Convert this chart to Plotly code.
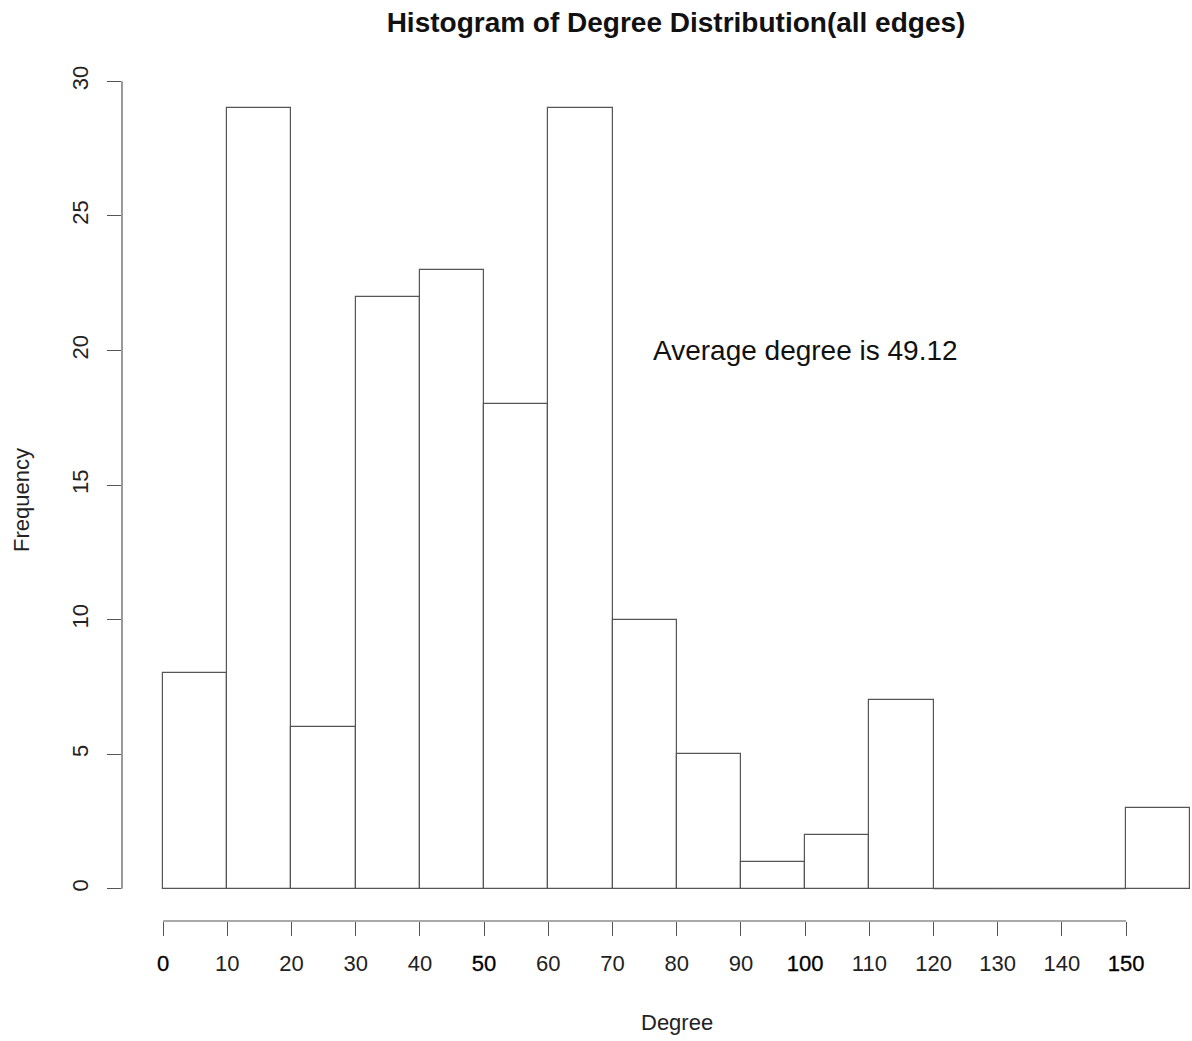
import plotly.graph_objects as go

# Data
bin_edges = [0, 10, 20, 30, 40, 50, 60, 70, 80, 90, 100, 110, 120, 130, 140, 150, 160]
counts = [8, 29, 6, 22, 23, 18, 29, 10, 5, 1, 2, 7, 0, 0, 0, 3]
x_tick_vals = [0, 10, 20, 30, 40, 50, 60, 70, 80, 90, 100, 110, 120, 130, 140, 150]
x_tick_bold = [0, 50, 100, 150]
y_tick_vals = [0, 5, 10, 15, 20, 25, 30]
title_text = "Histogram of Degree Distribution(all edges)"
note_text = "Average degree is 49.12"
note_pos = (100, 20)

FONT = "Liberation Sans, Arial, Helvetica, sans-serif"
LINE = "#555555"

centers = [(a + b) / 2 for a, b in zip(bin_edges[:-1], bin_edges[1:])]
widths = [b - a for a, b in zip(bin_edges[:-1], bin_edges[1:])]

fig = go.Figure()
fig.add_trace(go.Bar(
    x=centers, y=counts, width=widths,
    marker=dict(color="white", line=dict(color=LINE, width=1.2)),
    hoverinfo="x+y", showlegend=False,
))

# zero-height bins drawn as flat outlines on the baseline
zx, zy = [], []
for a, b, c in zip(bin_edges[:-1], bin_edges[1:], counts):
    if c == 0:
        zx += [a, b, None]
        zy += [0, 0, None]
fig.add_trace(go.Scatter(x=zx, y=zy, mode="lines",
                         line=dict(color=LINE, width=1.2),
                         hoverinfo="skip", showlegend=False))

ticktext = [
    f'<span style="stroke:#000;stroke-width:0.3px;fill:#000">{v}</span>' if v in x_tick_bold else str(v)
    for v in x_tick_vals
]

# figure fills the whole 1192x1041 window (body margin removed below)
W, H = 1192, 1041
L, T, PW, PH = 122, 49, 1070, 872
fig.update_layout(
    width=W, height=H,
    margin=dict(l=L, r=W - L - PW, t=T, b=H - T - PH),
    plot_bgcolor="white", paper_bgcolor="white",
    font=dict(family=FONT, size=22, color="#222222"),
    bargap=0,
    title=dict(text=f"<b>{title_text}</b>", x=(676 - L) / PW, xanchor="center",
               xref="paper", y=1 - 22 / H, yanchor="middle", yref="container",
               font=dict(size=28, color="#111111", family=FONT)),
    xaxis=dict(range=[-6.4, 160.26], tickvals=x_tick_vals, ticktext=ticktext,
               ticks="outside", ticklen=14, tickwidth=1.2, tickcolor=LINE,
               showgrid=False, zeroline=False, showline=False, ticklabelstandoff=9,
               tickfont=dict(size=22, color="#222222")),
    yaxis=dict(range=[-1.2, 31.2], tickvals=y_tick_vals, tickangle=-90,
               ticks="outside", ticklen=14, tickwidth=1.2, tickcolor=LINE,
               showgrid=False, zeroline=False, showline=False, ticklabelstandoff=10,
               tickfont=dict(size=22, color="#222222")),
    shapes=[
        dict(type="line", xref="x", yref="paper", x0=x_tick_vals[0], x1=x_tick_vals[-1],
             y0=0, y1=0, line=dict(color=LINE, width=1.2)),
        dict(type="line", xref="paper", yref="y", x0=0, x1=0,
             y0=y_tick_vals[0], y1=y_tick_vals[-1], line=dict(color=LINE, width=1.2)),
    ],
    annotations=[
        dict(text=note_text, x=note_pos[0], y=note_pos[1], xref="x", yref="y",
             xanchor="center", yanchor="middle",
             showarrow=False, font=dict(size=28, color="#111111")),
        dict(text="Degree", x=(677 - L) / PW, y=(T + PH - 1022) / PH,
             xref="paper", yref="paper", xanchor="center", yanchor="middle",
             showarrow=False, font=dict(size=22)),
        dict(text="Frequency", x=(22 - L) / PW, y=(T + PH - 500) / PH,
             xref="paper", yref="paper", xanchor="center", yanchor="middle",
             showarrow=False, textangle=-90, font=dict(size=22)),
    ],
)

fig.write_html(
    "out.html",
    config={"displayModeBar": False},
    post_script="document.body.style.margin='0';document.body.style.overflow='hidden';",
)
